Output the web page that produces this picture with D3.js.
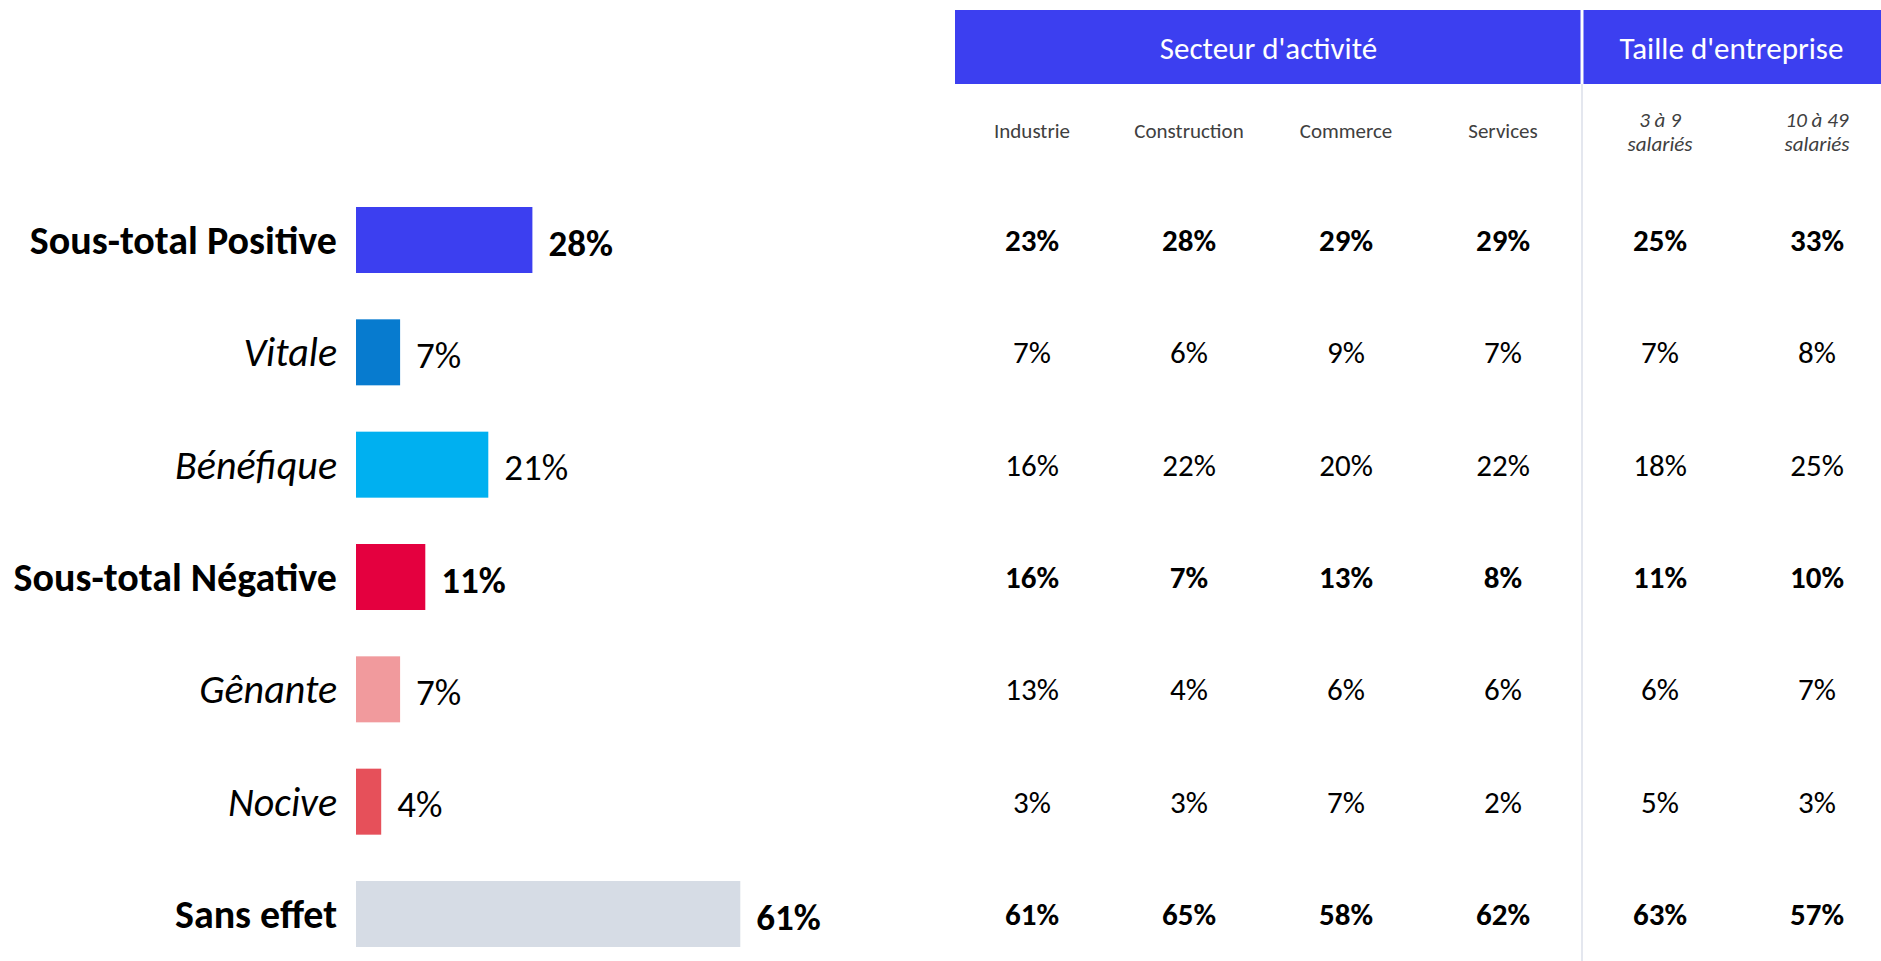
<!DOCTYPE html>
<html>
<head>
<meta charset="utf-8">
<script src="https://cdn.jsdelivr.net/npm/d3@7"></script>
<style>
  body { margin: 0; background: #fff; }
  svg text { font-family: Carlito, Lato, sans-serif; }
</style>
</head>
<body>
<div id="chart-area"></div>
<script>
// data
var categories = ["Sous-total Positive", "Vitale", "Bénéfique", "Sous-total Négative", "Gênante", "Nocive", "Sans effet"];
var totals = [28, 7, 21, 11, 7, 4, 61];
var subtotal = [true, false, false, true, false, false, true];
var barColors = ["#3c3ff0", "#077bcf", "#00b0f0", "#e4003f", "#f19a9d", "#e6505a", "#d6dce5"];

var columns = ["Industrie", "Construction", "Commerce", "Services", "3 à 9|salariés", "10 à 49|salariés"];
var groups = ["Secteur d'activité", "Taille d'entreprise"];
var industrie = [23, 7, 16, 16, 13, 3, 61];
var construction = [28, 6, 22, 7, 4, 3, 65];
var commerce = [29, 9, 20, 13, 6, 7, 58];
var services = [29, 7, 22, 8, 6, 2, 62];
var taille3a9 = [25, 7, 18, 11, 6, 5, 63];
var taille10a49 = [33, 8, 25, 10, 7, 3, 57];
var tableValues = [industrie, construction, commerce, services, taille3a9, taille10a49];

var width = 1881, height = 961;
var svg = d3.select("#chart-area")
  .append("svg")
    .attr("width", width)
    .attr("height", height);

// scales
var y = d3.scalePoint().domain(categories).range([240, 914]);
var x = d3.scaleLinear().domain([0, 100]).range([356, 986]);
var colX = d3.scalePoint().domain(columns).range([1032, 1817]);
var barH = 66;

// header band
var bandLeft = 955, bandSplit = 1582, bandTop = 10, bandBottom = 84;
svg.append("rect")
  .attr("x", bandLeft).attr("y", bandTop)
  .attr("width", width - bandLeft).attr("height", bandBottom - bandTop)
  .attr("fill", "#3c3ff0");
svg.append("line")
  .attr("x1", bandSplit).attr("x2", bandSplit)
  .attr("y1", bandTop).attr("y2", bandBottom)
  .attr("stroke", "#fff").attr("stroke-width", 3);
svg.append("line")
  .attr("x1", bandSplit).attr("x2", bandSplit)
  .attr("y1", bandBottom).attr("y2", height)
  .attr("stroke", "#e4e7ef").attr("stroke-width", 2);

var groupCenters = [(bandLeft + bandSplit) / 2, (bandSplit + width) / 2];
svg.selectAll(".group-label")
  .data(groups)
  .enter()
  .append("text")
    .attr("class", "group-label")
    .attr("x", function(d, i) { return groupCenters[i]; })
    .attr("y", 52)
    .attr("text-anchor", "middle")
    .attr("dominant-baseline", "middle")
    .attr("fill", "#fff")
    .attr("font-size", 31)
    .text(function(d) { return d; });

// column headers
var colHeads = svg.selectAll(".col-head")
  .data(columns)
  .enter()
  .append("text")
    .attr("class", "col-head")
    .attr("text-anchor", "middle")
    .attr("fill", "#404040")
    .attr("font-size", 21)
    .attr("font-style", function(d) { return d.indexOf("|") >= 0 ? "italic" : "normal"; });

colHeads.each(function(d) {
  var parts = d.split("|");
  var t = d3.select(this);
  var top = parts.length > 1 ? 127 : 138;
  parts.forEach(function(p, k) {
    t.append("tspan")
      .attr("x", colX(d))
      .attr("y", top + k * 24)
      .text(p);
  });
});

// left labels
svg.selectAll(".cat-label")
  .data(categories)
  .enter()
  .append("text")
    .attr("class", "cat-label")
    .attr("x", 337)
    .attr("y", function(d) { return y(d); })
    .attr("dy", "0.35em")
    .attr("text-anchor", "end")
    .attr("fill", "#000")
    .attr("font-size", 40)
    .attr("font-weight", function(d, i) { return subtotal[i] ? "bold" : "normal"; })
    .attr("font-style", function(d, i) { return subtotal[i] ? "normal" : "italic"; })
    .text(function(d) { return d; });

// bars
svg.selectAll(".bar")
  .data(categories)
  .enter()
  .append("rect")
    .attr("class", "bar")
    .attr("x", x(0))
    .attr("y", function(d) { return y(d) - barH / 2; })
    .attr("width", function(d, i) { return x(totals[i]) - x(0); })
    .attr("height", barH)
    .attr("fill", function(d, i) { return barColors[i]; });

svg.selectAll(".bar-value")
  .data(categories)
  .enter()
  .append("text")
    .attr("class", "bar-value")
    .attr("x", function(d, i) { return x(totals[i]) + 16; })
    .attr("y", function(d) { return y(d); })
    .attr("dy", "0.42em")
    .attr("fill", "#000")
    .attr("font-size", 37)
    .attr("font-weight", function(d, i) { return subtotal[i] ? "bold" : "normal"; })
    .text(function(d, i) { return totals[i] + "%"; });

// table of values
columns.forEach(function(col, c) {
  svg.selectAll(".cell-" + c)
    .data(tableValues[c])
    .enter()
    .append("text")
      .attr("class", "cell-" + c)
      .attr("x", colX(col))
      .attr("y", function(d, i) { return y(categories[i]); })
      .attr("dy", "0.35em")
      .attr("text-anchor", "middle")
      .attr("fill", "#000")
      .attr("font-size", 31)
      .attr("font-weight", function(d, i) { return subtotal[i] ? "bold" : "normal"; })
      .text(function(d) { return d + "%"; });
});
</script>
</body>
</html>
